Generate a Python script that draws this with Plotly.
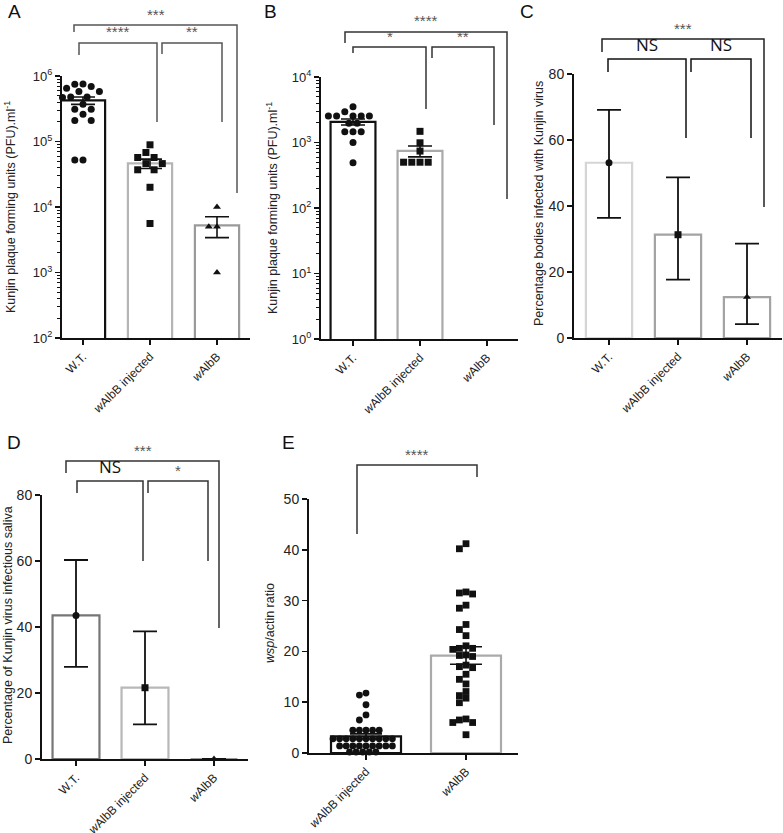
import numpy as np
import plotly.graph_objects as go

W, H = 783, 833

# ---------------- data ----------------
cats3 = ["W.T.", "<i>w</i>AlbB injected", "<i>w</i>AlbB"]
cats2 = ["<i>w</i>AlbB injected", "<i>w</i>AlbB"]

# A: Kunjin PFU/ml
a_wt = [7.55e5, 7.5e5, 6.9e5, 6.5e5, 5.8e5, 5.8e5, 4.8e5, 4.8e5, 4.7e5,
        3.7e5, 3.1e5, 3.1e5, 2.6e5, 2.1e5, 2.1e5, 5.2e4, 5.2e4]
a_inj = [8.9e4, 6.8e4, 5.7e4, 5.7e4, 4.6e4, 4.6e4, 3.7e4, 3.7e4, 2.0e4, 5.6e3]
a_walbb = [1.0e4, 5.0e3, 5.0e3, 1.0e3]

# B: Kunjin PFU/ml
b_wt = [3520, 2950, 2540, 2540, 2540, 2540, 2540, 1960, 1960, 1460, 1460, 1460, 1000, 490]
b_inj = [1480, 990, 740, 500, 500, 500, 500]
b_walbb = []

# C: percentage bodies infected (mean, lower CI, upper CI)
c_pct = [53.1, 31.3, 12.4]
c_low = [36.4, 17.7, 4.2]
c_high = [69.1, 48.7, 28.6]

# D: percentage infectious saliva
d_pct = [43.5, 21.6, 0.0]
d_low = [27.9, 10.5, 0.0]
d_high = [60.3, 38.7, 0.0]

# E: wsp/actin ratio
e_inj = [11.8, 11.4, 9.5, 7.5, 6.5,
         4.5, 4.5, 4.5, 4.5, 4.5,
         2.8, 2.8, 2.8, 2.8, 2.8, 2.8, 2.8, 2.8, 2.8, 2.8,
         1.4, 1.4, 1.4, 1.4, 1.4, 1.4, 1.4, 1.4, 1.4,
         0.2, 0.2, 0.2, 0.2, 0.2]
e_walbb = [41.2, 40.2, 31.7, 31.5, 31.3, 29.1, 28.5, 25.3, 24.3, 23.1, 21.1,
           20.6, 20.6, 20.4, 19.3, 19.2, 19.0, 17.3, 17.0, 16.8, 15.5, 14.5,
           13.6, 12.1, 11.3, 10.8, 9.9, 6.7, 6.5, 6.0, 6.0, 3.6]

log_tickvals_a = [1e2, 1e3, 1e4, 1e5, 1e6]
log_ticktext_a = ["10<sup>2</sup>", "10<sup>3</sup>", "10<sup>4</sup>", "10<sup>5</sup>", "10<sup>6</sup>"]
log_tickvals_b = [1e0, 1e1, 1e2, 1e3, 1e4]
log_ticktext_b = ["10<sup>0</sup>", "10<sup>1</sup>", "10<sup>2</sup>", "10<sup>3</sup>", "10<sup>4</sup>"]
pct_ticks = [0, 20, 40, 60, 80]
e_ticks = [0, 10, 20, 30, 40, 50]

# ---------------- helpers ----------------
FONT = "Liberation Sans, Arial, sans-serif"


def px(x):
    return x / W


def py(y):
    return 1 - y / H


def swarm(vals, ypx_unit, xpx_unit, d, log=False):
    """deterministic beeswarm offsets (in x data units)"""
    ys = [(np.log10(v) if log else v) * ypx_unit for v in vals]
    order = sorted(range(len(vals)), key=lambda i: -ys[i])
    cands = [0.0]
    for k in range(1, 30):
        cands += [-k * d / 2, k * d / 2]
    placed = []
    offs = [0.0] * len(vals)
    for i in order:
        for c in cands:
            ok = True
            for (xx, yy) in placed:
                if (xx - c) ** 2 + (yy - ys[i]) ** 2 < (d * 0.98) ** 2:
                    ok = False
                    break
            if ok:
                placed.append((c, ys[i]))
                offs[i] = c / xpx_unit
                break
    return offs


def mean_sem(v):
    v = np.asarray(v, float)
    return float(v.mean()), float(v.std(ddof=1) / np.sqrt(len(v)))


def minor_log(lo, hi):
    out = []
    for e in range(lo, hi):
        out += [k * 10 ** e for k in range(2, 10)]
    return out


fig = go.Figure()

panels = {
    "A": dict(x=(62, 250), y=(76, 338)),
    "B": dict(x=(321, 518), y=(77, 339)),
    "C": dict(x=(574, 782), y=(74, 338)),
    "D": dict(x=(42, 248), y=(495, 759)),
    "E": dict(x=(309, 518), y=(499, 753)),
}
axis_ids = {"A": "", "B": "2", "C": "3", "D": "4", "E": "5"}

BLACK = "#111111"


def add_scatter_group(ax, idx, vals, symbol, ypx, xpx, log, size=7, d=None):
    if not vals:
        return
    offs = swarm(vals, ypx, xpx, d if d else size + 1.2, log)
    fig.add_trace(go.Scatter(
        x=[idx + o for o in offs], y=vals, mode="markers",
        marker=dict(symbol=symbol, size=size, color=BLACK, line=dict(width=0)),
        xaxis="x" + ax, yaxis="y" + ax, showlegend=False, cliponaxis=False))


def add_bars(ax, xs, means, colors, width):
    fig.add_trace(go.Bar(
        x=xs, y=means, width=width,
        marker=dict(color="white", line=dict(color=colors, width=2.2)),
        xaxis="x" + ax, yaxis="y" + ax, showlegend=False))


def add_err(ax, xs, means, plus, minus, capw=12, thick=1.6):
    fig.add_trace(go.Scatter(
        x=xs, y=means, mode="markers",
        marker=dict(size=1, color="rgba(0,0,0,0)"),
        error_y=dict(type="data", symmetric=False, array=plus, arrayminus=minus,
                     color=BLACK, thickness=thick, width=capw),
        xaxis="x" + ax, yaxis="y" + ax, showlegend=False, cliponaxis=False))


# ---- Panel A ----
groups_a = [a_wt, a_inj, a_walbb]
ms_a = [mean_sem(g) for g in groups_a]
add_bars("", [0, 1, 2], [m for m, s in ms_a], ["#111111", "#b5b5b5", "#9a9a9a"], 0.66)
for i, (g, sym) in enumerate(zip(groups_a, ["circle", "square", "triangle-up"])):
    add_scatter_group("", i, g, sym, 65.5, 67, True)
add_err("", [0, 1, 2], [m for m, s in ms_a], [s for m, s in ms_a], [s for m, s in ms_a])

# ---- Panel B ----
groups_b = [b_wt, b_inj]
ms_b = [mean_sem(g) for g in groups_b]
add_bars("2", [0, 1], [m for m, s in ms_b], ["#111111", "#aaaaaa"], 0.67)
for i, (g, sym) in enumerate(zip([b_wt, b_inj, b_walbb], ["circle", "square", "triangle-up"])):
    add_scatter_group("2", i, g, sym, 65.5, 67, True)
add_err("2", [0, 1], [m for m, s in ms_b], [s for m, s in ms_b], [s for m, s in ms_b])

# ---- Panel C ----
add_bars("3", [0, 1, 2], c_pct, ["#d5d5d5", "#a3a3a3", "#a3a3a3"], 0.67)
add_err("3", [0, 1, 2], c_pct, [h - m for h, m in zip(c_high, c_pct)],
        [m - l for m, l in zip(c_pct, c_low)], capw=12, thick=1.8)
for i, sym in enumerate(["circle", "square", "triangle-up"]):
    fig.add_trace(go.Scatter(x=[i], y=[c_pct[i]], mode="markers",
                             marker=dict(symbol=sym, size=7, color=BLACK),
                             xaxis="x3", yaxis="y3", showlegend=False, cliponaxis=False))

# ---- Panel D ----
add_bars("4", [0, 1, 2], d_pct, ["#767676", "#b8b8b8", "#9a9a9a"], 0.68)
add_err("4", [0, 1, 2], d_pct, [h - m for h, m in zip(d_high, d_pct)],
        [m - l for m, l in zip(d_pct, d_low)], capw=12, thick=1.8)
for i, sym in enumerate(["circle", "square", "triangle-up"]):
    fig.add_trace(go.Scatter(x=[i], y=[d_pct[i]], mode="markers",
                             marker=dict(symbol=sym, size=7, color=BLACK),
                             xaxis="x4", yaxis="y4", showlegend=False, cliponaxis=False))

# ---- Panel E ----
groups_e = [e_inj, e_walbb]
ms_e = [mean_sem(g) for g in groups_e]
add_bars("5", [0, 1], [m for m, s in ms_e], ["#111111", "#aaaaaa"], 0.70)
for i, (g, sym) in enumerate(zip(groups_e, ["circle", "square"])):
    add_scatter_group("5", i, g, sym, 5.08, 100, False, size=6.8, d=6.6)
add_err("5", [0, 1], [m for m, s in ms_e], [s for m, s in ms_e], [s for m, s in ms_e], capw=16)

# ---------------- axes ----------------
layout = dict(width=W, height=H, margin=dict(l=0, r=0, t=0, b=0, pad=0), autosize=False,
              paper_bgcolor="white", plot_bgcolor="white", barmode="overlay",
              font=dict(family=FONT, color="#222222", size=13), showlegend=False)


def xaxis_cfg(key, ncat, ticktext, tick0px, spacing):
    x0, x1 = panels[key]["x"]
    lo = -(tick0px - x0) / spacing
    hi = lo + (x1 - x0) / spacing
    return dict(domain=[px(x0), px(x1)], range=[lo, hi], tickvals=list(range(ncat)),
                ticktext=ticktext, tickangle=-45, showline=True, linewidth=2,
                linecolor=BLACK, ticks="outside", ticklen=5, tickwidth=1.5,
                tickcolor=BLACK, showgrid=False, zeroline=False, automargin=False,
                tickfont=dict(size=12, family=FONT, color="#222"),
                anchor="y" + axis_ids[key], fixedrange=True)


def yaxis_cfg(key, rng, tickvals, ticktext=None, log=False):
    y0, y1 = panels[key]["y"]
    d = dict(domain=[py(y1), py(y0)], range=rng, tickvals=tickvals, showline=True,
             linewidth=2, linecolor=BLACK, ticks="outside", ticklen=5, tickwidth=1.5,
             tickcolor=BLACK, showgrid=False, zeroline=False, automargin=False,
             tickfont=dict(size=14 if not log else 13, family=FONT, color="#222"),
             anchor="x" + axis_ids[key], fixedrange=True)
    if ticktext:
        d["ticktext"] = ticktext
    if log:
        d["type"] = "log"
        d["minor"] = dict(ticks="outside", ticklen=3, tickwidth=1, tickcolor=BLACK,
                          tickvals=minor_log(int(rng[0]), int(rng[1])), showgrid=False)
    return d


layout["xaxis"] = xaxis_cfg("A", 3, cats3, 83, 67)
layout["yaxis"] = yaxis_cfg("A", [2, 6], log_tickvals_a, log_ticktext_a, True)
layout["xaxis2"] = xaxis_cfg("B", 3, cats3, 353, 67)
layout["yaxis2"] = yaxis_cfg("B", [0, 4], log_tickvals_b, log_ticktext_b, True)
layout["xaxis3"] = xaxis_cfg("C", 3, cats3, 609, 69)
layout["yaxis3"] = yaxis_cfg("C", [0, 80], pct_ticks)
layout["xaxis4"] = xaxis_cfg("D", 3, cats3, 76, 69)
layout["yaxis4"] = yaxis_cfg("D", [0, 80], pct_ticks)
layout["xaxis5"] = xaxis_cfg("E", 2, cats2, 366, 100)
layout["yaxis5"] = yaxis_cfg("E", [0, 50], e_ticks)

fig.update_layout(**layout)

# ---------------- annotations: titles, letters ----------------
ann = []
for letter, (lx, ly) in {"A": (14, 12), "B": (270, 12), "C": (527, 12),
                         "D": (14, 443), "E": (288, 443)}.items():
    ann.append(dict(x=px(lx), y=py(ly), xref="paper", yref="paper", text=letter,
                    xanchor="center", yanchor="middle",
                    showarrow=False, font=dict(size=19, family=FONT, color="#111")))

ytitles = [
    (10, 207, "Kunjin plaque forming units (PFU).ml<sup>-1</sup>"),
    (272, 208, "Kunjin plaque forming units (PFU).ml<sup>-1</sup>"),
    (539, 204, "Percentage bodies infected with Kunjin virus"),
    (8, 625, "Percentage of Kunjin virus infectious saliva"),
    (270, 623, "<i>wsp</i>/actin ratio"),
]
for tx, ty, t in ytitles:
    ann.append(dict(x=px(tx), y=py(ty), xref="paper", yref="paper", text=t,
                    textangle=-90, showarrow=False, xanchor="center", yanchor="middle",
                    font=dict(size=12.5, family=FONT, color="#222")))

# significance brackets: (x_left, x_right, y_line, y_left_end, y_right_end, label, color)
brackets = [
    (74, 237, 25, 32, 193, "***", "#555"),
    (79, 157, 43, 55, 122, "****", "#555"),
    (162, 222, 43, 54, 122, "**", "#555"),
    (345, 507, 32, 43, 199, "****", "#333"),
    (353, 426, 47, 53, 109, "*", "#333"),
    (432, 494, 47, 58, 125, "**", "#333"),
    (602, 764, 39, 52, 207, "***", "#222"),
    (608, 686, 59, 72, 138, "NS", "#111"),
    (691, 751, 59, 72, 138, "NS", "#111"),
    (66, 219, 461, 473, 628, "***", "#333"),
    (77, 143, 481, 493, 561, "NS", "#333"),
    (148, 208, 481, 493, 561, "*", "#333"),
    (357, 477, 465, 534, 477, "****", "#333"),
]
shapes = []
for xl, xr, yl, yle, yre, lab, col in brackets:
    path = (f"M {px(xl)},{py(yle)} L {px(xl)},{py(yl)} L {px(xr)},{py(yl)} "
            f"L {px(xr)},{py(yre)}")
    shapes.append(dict(type="path", path=path, xref="paper", yref="paper",
                       line=dict(color=col, width=1.5)))
    if lab == "NS":
        ann.append(dict(x=px((xl + xr) / 2), y=py(yl - 1), xref="paper", yref="paper",
                        text=lab, showarrow=False, yanchor="bottom", xanchor="center",
                        font=dict(size=17, family="Open Sans, sans-serif", color="#111")))
    else:
        ann.append(dict(x=px((xl + xr) / 2), y=py(yl - 0.5), xref="paper", yref="paper",
                        text=lab, showarrow=False, yanchor="bottom", xanchor="center",
                        font=dict(size=15, family=FONT, color="#555")))

fig.update_layout(annotations=ann, shapes=shapes)
fig.write_html("out.html", config={"displayModeBar": False, "staticPlot": True},
               post_script="document.body.style.margin='0px';document.body.style.overflow='hidden';")
